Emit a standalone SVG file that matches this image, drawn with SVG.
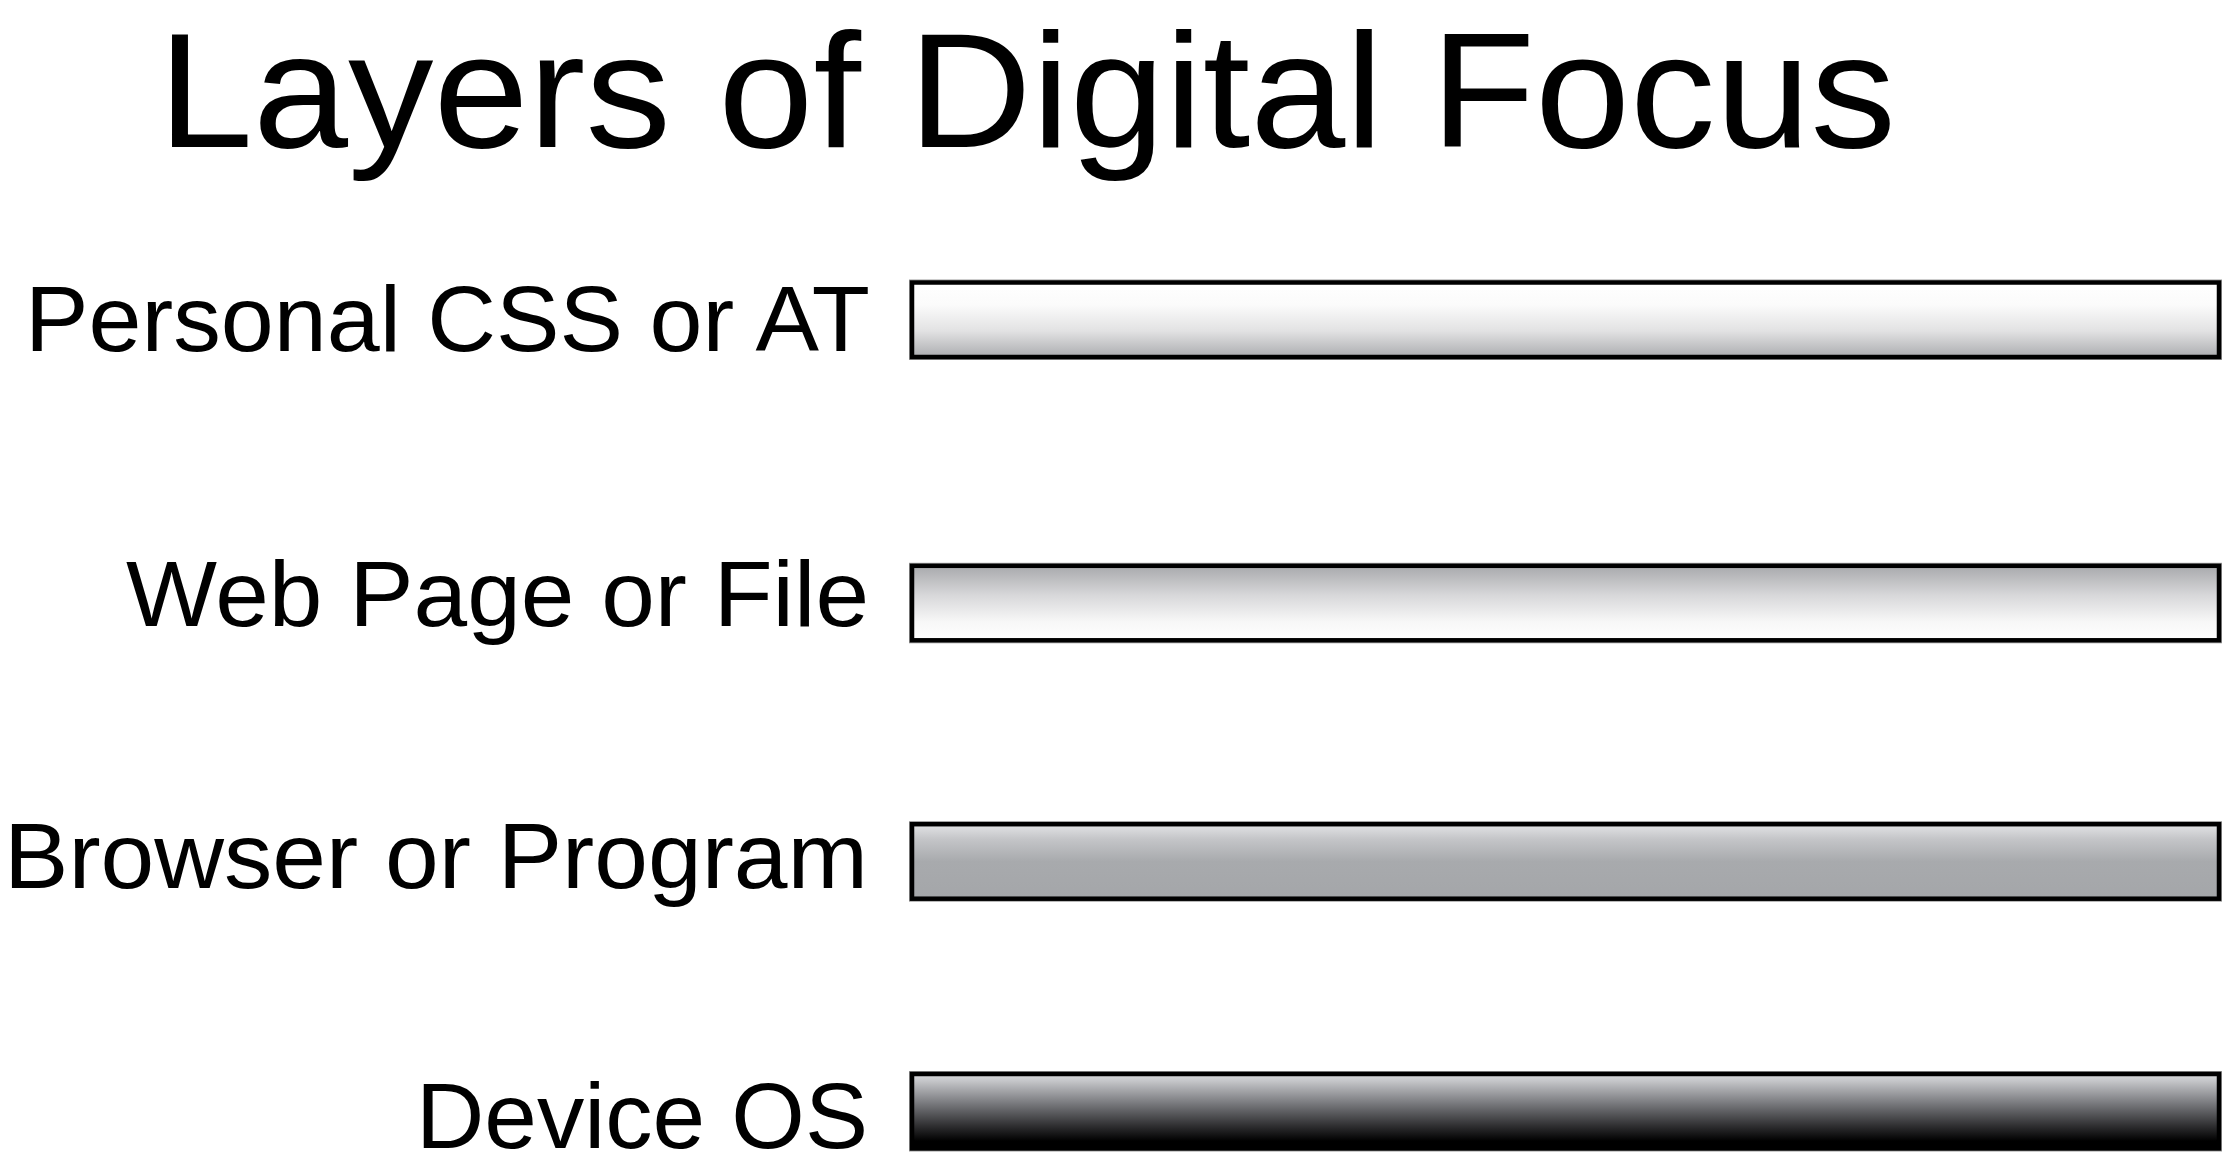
<svg xmlns="http://www.w3.org/2000/svg" width="2223" height="1174" viewBox="0 0 2223 1174">
  <style>
    .title { font-family: "Liberation Sans", Arial, sans-serif; font-size: 164px; fill: #000; }
    .label { font-family: "Liberation Sans", Arial, sans-serif; font-size: 93.5px; fill: #000; }
    .halo { fill: none; stroke: #9a9a9a; stroke-width: 1; }
    .bar { stroke: #000; stroke-width: 4.5; }
  </style>
  <defs>
    <linearGradient id="g1" x1="0" y1="0" x2="0" y2="1">
      <stop offset="0" stop-color="#ffffff"/>
      <stop offset="0.3" stop-color="#fbfbfb"/>
      <stop offset="0.65" stop-color="#e2e2e3"/>
      <stop offset="1" stop-color="#acadb0"/>
    </linearGradient>
    <linearGradient id="g2" x1="0" y1="0" x2="0" y2="1">
      <stop offset="0" stop-color="#a8a9ac"/>
      <stop offset="0.4" stop-color="#d8d8da"/>
      <stop offset="0.75" stop-color="#f7f7f7"/>
      <stop offset="1" stop-color="#ffffff"/>
    </linearGradient>
    <linearGradient id="g3" x1="0" y1="0" x2="0" y2="1">
      <stop offset="0" stop-color="#e3e4e6"/>
      <stop offset="0.2" stop-color="#c4c5c8"/>
      <stop offset="0.5" stop-color="#a8aaad"/>
      <stop offset="1" stop-color="#a4a6a9"/>
    </linearGradient>
    <linearGradient id="g4" x1="0" y1="0" x2="0" y2="1">
      <stop offset="0" stop-color="#dcdde0"/>
      <stop offset="0.4" stop-color="#77787c"/>
      <stop offset="0.7" stop-color="#2e2e30"/>
      <stop offset="0.9" stop-color="#000000"/>
      <stop offset="1" stop-color="#000000"/>
    </linearGradient>
  </defs>
  <rect width="2223" height="1174" fill="#ffffff"/>
  <g id="title">
    <text class="title" x="158" y="146.5" textLength="1738" lengthAdjust="spacingAndGlyphs">Layers of Digital Focus</text>
  </g>
  <g id="layer-personal">
    <text class="label" x="25" y="351" textLength="845" lengthAdjust="spacingAndGlyphs">Personal CSS or AT</text>
    <rect class="halo" x="909.5" y="280" width="1312" height="79.5"/>
    <rect class="bar" x="912" y="282.5" width="1307" height="74.5" fill="url(#g1)"/>
  </g>
  <g id="layer-webpage">
    <text class="label" x="126" y="626" textLength="743" lengthAdjust="spacingAndGlyphs">Web Page or File</text>
    <rect class="halo" x="909.5" y="563.3" width="1312" height="79.5"/>
    <rect class="bar" x="912" y="565.8" width="1307" height="74.5" fill="url(#g2)"/>
  </g>
  <g id="layer-browser">
    <text class="label" x="4" y="887.5" textLength="864" lengthAdjust="spacingAndGlyphs">Browser or Program</text>
    <rect class="halo" x="909.5" y="821.7" width="1312" height="79.5"/>
    <rect class="bar" x="912" y="824.2" width="1307" height="74.5" fill="url(#g3)"/>
  </g>
  <g id="layer-device">
    <text class="label" x="416" y="1148" textLength="452" lengthAdjust="spacingAndGlyphs">Device OS</text>
    <rect class="halo" x="909.5" y="1071.5" width="1312" height="79.5"/>
    <rect class="bar" x="912" y="1074" width="1307" height="74.5" fill="url(#g4)"/>
  </g>
  <g id="connectors"></g>
</svg>
